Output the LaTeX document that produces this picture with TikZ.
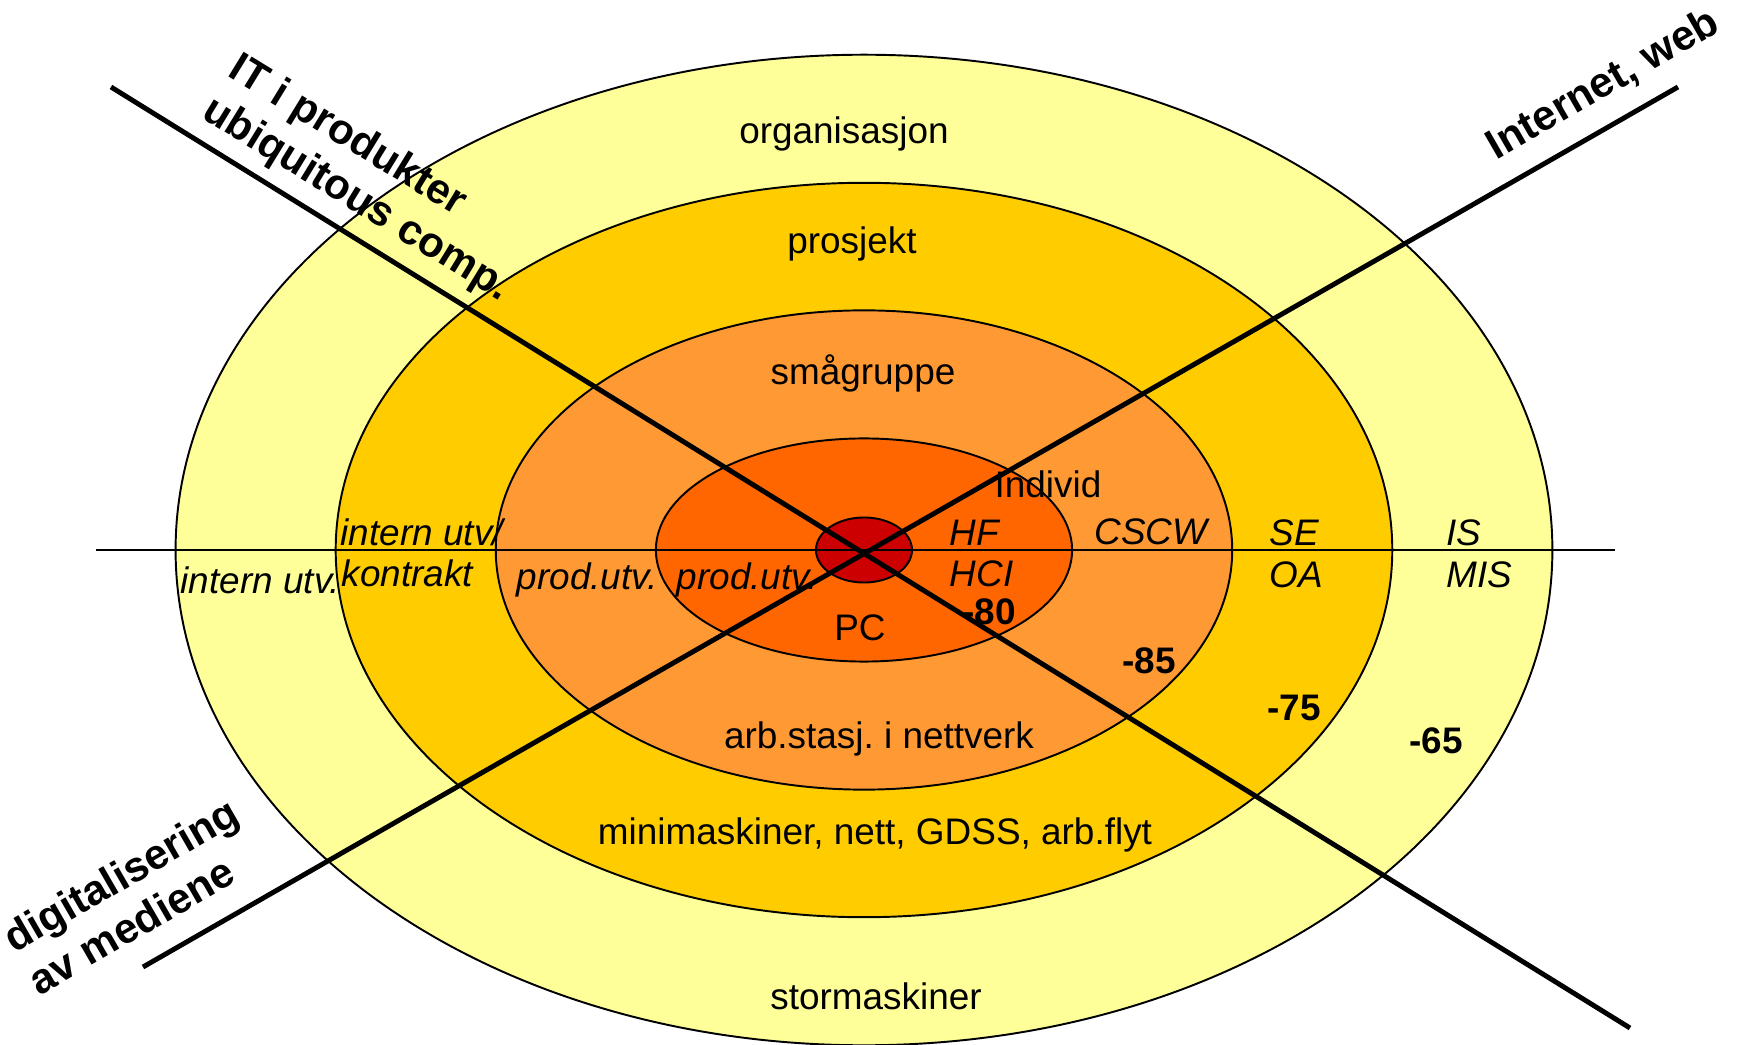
\documentclass[tikz,border=0pt]{standalone}
\usepackage{fontspec}
\setmainfont{Liberation Sans}
\usetikzlibrary{positioning}
\frenchspacing
\definecolor{ringOrg}{HTML}{FFFF99}
\definecolor{ringProj}{HTML}{FFCC00}
\definecolor{ringGroup}{HTML}{FF9933}
\definecolor{ringInd}{HTML}{FF6600}
\definecolor{ringCore}{HTML}{CC0000}
\tikzstyle{Ring} = [draw, line width=0.55pt]
\tikzstyle{Axis} = [line width=1.4pt]
\tikzstyle{Level} = [font=\fontsize{10.5}{12}\selectfont, inner sep=0pt]
\tikzstyle{Field} = [font=\fontsize{10.5}{12}\selectfont\itshape, inner sep=0pt]
\tikzstyle{Year} = [font=\fontsize{10.5}{12}\selectfont\bfseries, inner sep=0pt]
\tikzstyle{Trend} = [font=\fontsize{12}{14}\selectfont\bfseries, align=left, inner sep=0pt]
\begin{document}
\begin{tikzpicture}[x=0.01cm, y=0.01cm]
    \useasboundingbox (-864,-495) rectangle (877,550);
    % rings, outside in
    \filldraw[Ring, fill=ringOrg]   (0,0) ellipse [x radius=6.88cm, y radius=4.95cm];
    \filldraw[Ring, fill=ringProj]  (0,0) ellipse [x radius=5.28cm, y radius=3.67cm];
    \filldraw[Ring, fill=ringGroup] (0,0) ellipse [x radius=3.68cm, y radius=2.395cm];
    \filldraw[Ring, fill=ringInd]   (0,0) ellipse [x radius=2.08cm, y radius=1.115cm];
    \filldraw[Ring, fill=ringCore]  (0,0) ellipse [x radius=0.48cm, y radius=0.325cm];

    \coordinate (axisW)   at (-768,0);
    \coordinate (axisE)   at (751,0);
    \coordinate (prodNW)  at (-753,463);
    \coordinate (prodSE)  at (766,-478);
    \coordinate (mediaSW) at (-721,-417);
    \coordinate (webNE)   at (814,463);
    \draw[line width=0.6pt] (axisW) -- (axisE);
    \draw[Axis] (prodNW) -- (prodSE);
    \draw[Axis] (mediaSW) -- (webNE);

    % levels
    \node[Level] (org)     at (-20,416)   {organisasjon};
    \node[Level] (proj)    at (-12,306)   {prosjekt};
    \node[Level] (group)   at (-1,177)    {smågruppe};
    \node[Level] (ind)     at (184,66)    {Individ};
    \node[Level] (pc)      at (-4,-78)    {PC};
    \node[Level] (arb)     at (15,-189)   {arb.stasj. i nettverk};
    \node[Level] (mini)    at (11,-285)   {minimaskiner, nett, GDSS, arb.flyt};
    \node[Level] (stor)    at (12,-446)   {stormaskiner};

    % fields
    \node[Field, anchor=west] (intern)   at (-524,18)  {intern utv/};
    \node[Field, anchor=west] (kontrakt) at (-523,-23) {kontrakt};
    \node[Field, anchor=west] (internB)  at (-684,-30) {intern utv.};
    \node[Field, anchor=west] (prodA)    at (-348,-30) {prod.utv.};
    \node[Field, anchor=west] (prodB)    at (-188,-30) {prod.utv.};
    \node[Field, anchor=west] (hf)       at (85,17)    {HF};
    \node[Field] (hci) [below=1.4mm of hf.south west, anchor=north west] {HCI};
    \node[Field, anchor=west] (cscw)     at (230,18)   {CSCW};
    \node[Field, anchor=west] (se)       at (405,17)   {SE};
    \node[Field] (oa)  [below=1.4mm of se.south west, anchor=north west] {OA};
    \node[Field, anchor=west] (is)       at (582,17)   {IS};
    \node[Field] (mis) [below=1.4mm of is.south west, anchor=north west] {MIS};

    % decades
    \node[Year] (y80) at (125,-62)  {-80};
    \node[Year] (y85) at (285,-111) {-85};
    \node[Year] (y75) at (430,-158) {-75};
    \node[Year] (y65) at (572,-191) {-65};

    % trends
    \node[Trend, rotate=-31.5] (produkter) at (-495,371) {IT i produkter\\ubiquitous comp.};
    \node[Trend, rotate=30]    (web)       at (739,465)  {Internet, web};
    \node[Trend, rotate=30]    (medier)    at (-731,-346) {digitalisering\\av mediene};
\end{tikzpicture}
\end{document}
